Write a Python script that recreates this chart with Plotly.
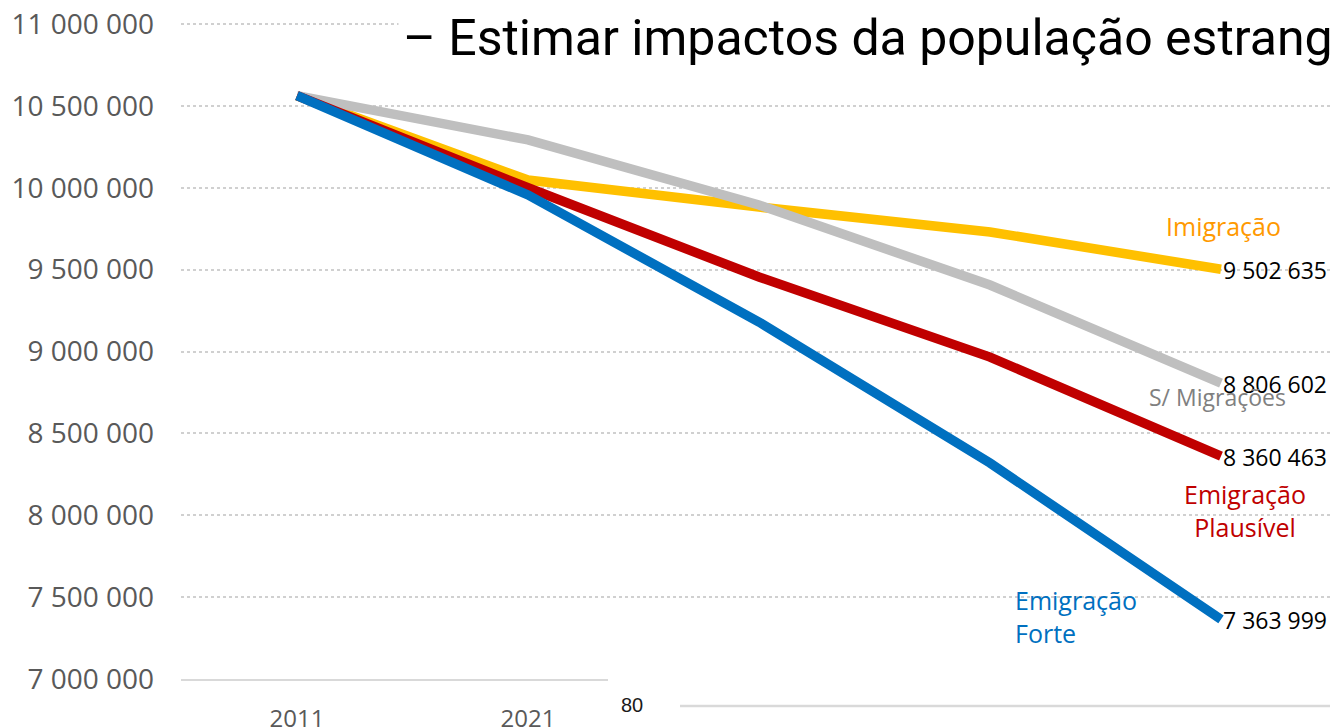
import plotly.graph_objects as go

years = [2011, 2021, 2031, 2041, 2051]
shown_year_ticks = [2011, 2021]

imigracao = [10562178, 10047000, 9882000, 9730000, 9502635]
sem_migracoes = [10562178, 10292000, 9895000, 9406000, 8806602]
emigracao_plausivel = [10562178, 10000000, 9455000, 8966000, 8360463]
emigracao_forte = [10562178, 9956000, 9180000, 8319000, 7363999]

y_ticks = [7000000, 7500000, 8000000, 8500000, 9000000, 9500000,
           10000000, 10500000, 11000000]

def fmt(v):
    return f"{v:,}".replace(",", " ")

W, H = 1330, 728
L, R, T, B = 181, 0, 22, 49
PW, PH = W - L - R, H - T - B

def px(x):
    return (x - L) / PW

def py(y):
    return (H - B - y) / PH

series = [
    ("Imigração", imigracao, "#FFC000"),
    ("S/ Migrações", sem_migracoes, "#BFBFBF"),
    ("Emigração Plausível", emigracao_plausivel, "#C00000"),
    ("Emigração Forte", emigracao_forte, "#0070C0"),
]

fig = go.Figure()
for name, vals, col in series:
    fig.add_trace(go.Scatter(
        x=years, y=vals, mode="lines", name=name,
        line=dict(color=col, width=9.5),
        showlegend=False, hoverinfo="skip",
    ))

annotations = []
# end value labels
for name, vals, col in series:
    annotations.append(dict(
        x=years[-1], y=vals[-1], xref="x", yref="y",
        text=fmt(vals[-1]), showarrow=False,
        xanchor="left", yanchor="middle", xshift=0, yshift=-1,
        font=dict(family="Open Sans", size=23, color="#000000"),
    ))

lab_font = "Open Sans"
annotations += [
    dict(x=years[-1], y=imigracao[-1], xref="x", yref="y", text="Imigração",
         showarrow=False, xanchor="center", yanchor="middle", xshift=2, yshift=43,
         font=dict(family=lab_font, size=25, color="#FF9900")),
    dict(x=years[-1], y=sem_migracoes[-1], xref="x", yref="y", text="S/ Migrações",
         showarrow=False, xanchor="center", yanchor="middle", xshift=-4, yshift=-14,
         font=dict(family=lab_font, size=23, color="#808080")),
    dict(x=years[-1], y=emigracao_plausivel[-1], xref="x", yref="y",
         text="Emigração<br>Plausível", align="center",
         showarrow=False, xanchor="center", yanchor="middle", xshift=24, yshift=-54,
         font=dict(family=lab_font, size=25, color="#C00000")),
    dict(x=years[-1], y=emigracao_forte[-1], xref="x", yref="y",
         text="Emigração<br>Forte", align="left",
         showarrow=False, xanchor="left", yanchor="middle", xshift=-208, yshift=3,
         font=dict(family=lab_font, size=25, color="#0070C0")),
    # slide title (cut off at right)
    dict(x=px(398), y=py(38), xref="paper", yref="paper",
         text="– Estimar impactos da população estrangeira",
         showarrow=False, xanchor="left", yanchor="middle",
         bgcolor="#FFFFFF", borderpad=4,
         font=dict(family="Roboto", size=50, color="#000000")),
    # fragment of another chart overlapping the bottom
    dict(x=px(632), y=py(705), xref="paper", yref="paper", text="80",
         showarrow=False, xanchor="center", yanchor="middle",
         font=dict(family="Liberation Sans Narrow, Liberation Sans", size=20, color="#1A1A1A")),
]

shapes = [
    dict(type="rect", xref="paper", yref="paper",
         x0=px(608), x1=px(1340), y0=py(645), y1=py(740),
         fillcolor="#FFFFFF", line=dict(width=0), layer="above"),
    dict(type="line", xref="paper", yref="paper",
         x0=px(680), x1=px(1340), y0=py(706), y1=py(706),
         line=dict(color="#D9D9D9", width=2.5), layer="above"),
]

x0 = years[0] - (years[1] - years[0]) * (297 - L) / (528 - 297)
x1 = years[0] + (years[1] - years[0]) * (W - R - 297) / (528 - 297)

# y scale: 11 000 000 sits 2 px below the top of the plot area
per_px = 4000000 / 655
y_top = 11000000 + 2 * per_px

fig.update_layout(
    width=W, height=H,
    margin=dict(l=L, r=R, t=T, b=B, autoexpand=False),
    paper_bgcolor="#FFFFFF", plot_bgcolor="#FFFFFF",
    annotations=annotations, shapes=shapes,
    xaxis=dict(
        range=[x0, x1], tickvals=shown_year_ticks,
        ticktext=[str(y) for y in shown_year_ticks],
        showgrid=False, zeroline=False,
        showline=True, linecolor="#D9D9D9", linewidth=1.5,
        ticks="", ticklabelstandoff=17,
        tickfont=dict(family="Open Sans", size=24, color="#595959"),
        automargin=False,
    ),
    yaxis=dict(
        range=[7000000, y_top], tickvals=y_ticks,
        ticktext=[fmt(v) for v in y_ticks],
        showgrid=True, gridcolor="#D0D0D0", gridwidth=1.5, griddash="dot",
        zeroline=False, showline=False, ticks="",
        ticklabelstandoff=26,
        tickfont=dict(family="Open Sans", size=28, color="#595959"),
        automargin=False,
    ),
)

fig.write_html(
    "out.html",
    config={"displayModeBar": False},
    post_script="document.body.style.margin='0';document.body.style.overflow='hidden';",
)
